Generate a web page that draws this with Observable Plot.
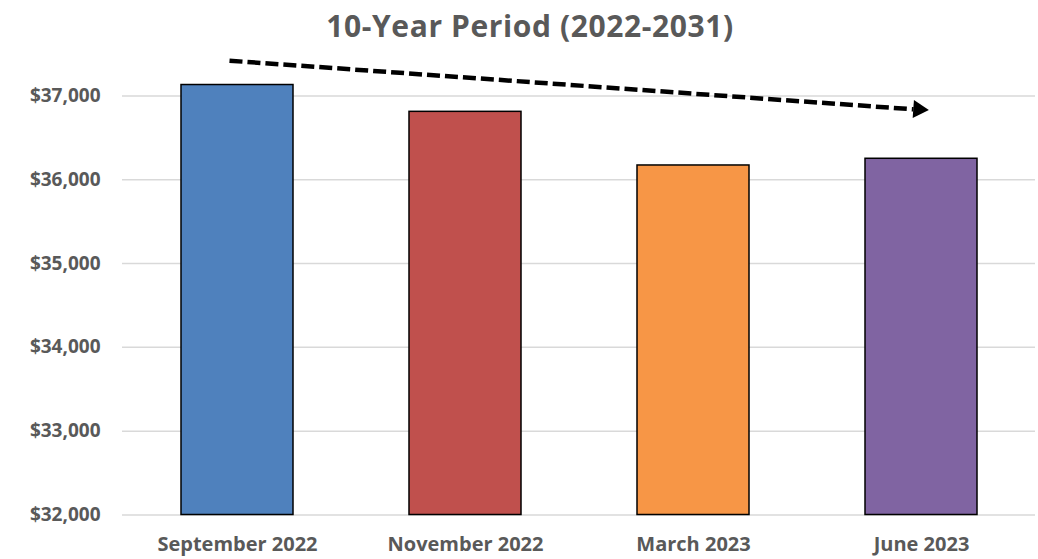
<!DOCTYPE html>
<html>
<head>
<meta charset="utf-8">
<script src="https://cdn.jsdelivr.net/npm/d3@7"></script>
<script src="https://cdn.jsdelivr.net/npm/@observablehq/plot@0.6"></script>
<style>
  html, body { margin: 0; padding: 0; background: #fff; }
  #title { height: 50px; line-height: 52px; width: 1038px; text-align: center; padding-left: 22px; box-sizing: border-box;
    font-family: "Open Sans", sans-serif; font-weight: bold; font-size: 30px; letter-spacing: 0.6px; color: #595959; }
</style>
</head>
<body>
<div id="title">10-Year Period (2022-2031)</div>
<div id="chart"></div>
<script>
const categories = ["September 2022", "November 2022", "March 2023", "June 2023"];
const values = [37130, 36810, 36170, 36250];
const colors = ["#4F81BD", "#C0504D", "#F79646", "#8064A2"];
const yTicks = [32000, 33000, 34000, 35000, 36000, 37000];
const baseline = 32000;
const yMax = 37500;
// dashed trend arrow (start/end values)
const trendFrom = ["September 2022"];
const trendTo = ["June 2023"];
const trendStart = [37420];
const trendEnd = [36840];

const data = categories.map((c, i) => ({category: c, value: values[i], color: colors[i]}));
const trend = trendFrom.map((f, i) => ({from: f, to: trendTo[i], start: trendStart[i], end: trendEnd[i]}));

const chart = Plot.plot({
  width: 1038,
  height: 509,
  marginLeft: 122,
  marginRight: 3,
  marginTop: 3.5,
  marginBottom: 44.5,
  style: {fontFamily: "Open Sans, sans-serif", color: "#595959", background: "#fff"},
  x: {domain: categories, paddingInner: 0.51, paddingOuter: 0.255, label: null},
  y: {domain: [baseline, yMax], label: null},
  marks: [
    Plot.gridY(yTicks, {stroke: "#d9d9d9", strokeOpacity: 1, strokeWidth: 1.5}),
    Plot.barY(data, {x: "category", y1: baseline, y2: "value", fill: "color", stroke: "#000", strokeWidth: 1.5}),
    Plot.axisY({ticks: yTicks, tickSize: 0, tickPadding: 22, tickFormat: d => "$" + d3.format(",")(d), fontSize: 19, fontWeight: "bold", label: null}),
    Plot.axisX({tickSize: 0, tickPadding: 22, fontSize: 20, fontWeight: "bold", label: null}),
    Plot.link(trend, {x1: "from", x2: "to", y1: "start", y2: "end", dx: -8, stroke: "#000", strokeWidth: 4.5, strokeDasharray: "13 5"}),
    Plot.dot(trend, {x: "to", y: "end", symbol: "triangle", r: 6.7, fill: "#000", stroke: null, rotate: 94, dx: -3})
  ]
});
document.getElementById("chart").appendChild(chart);
</script>
</body>
</html>
